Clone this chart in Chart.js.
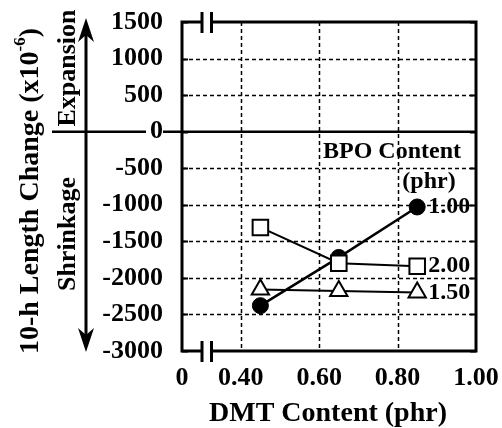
<!DOCTYPE html>
<html>
<head>
<meta charset="utf-8">
<script src="https://cdn.jsdelivr.net/npm/chart.js@4.4.0/dist/chart.umd.min.js"></script>
<style>
  html, body { margin: 0; padding: 0; background: #fff; }
</style>
</head>
<body>
<canvas id="lengthChart" width="502" height="428"></canvas>
<script>
// DMT content on the x axis, BPO content series
const dmtContent = [0.45, 0.65, 0.85];
const bpo100 = [-2380, -1720, -1030];
const bpo150 = [-2160, -2180, -2200];
const bpo200 = [-1310, -1800, -1840];

const xTickValues = [0.25, 0.40, 0.60, 0.80, 1.00];
const xTickLabels = ['0', '0.40', '0.60', '0.80', '1.00'];
const yTickValues = [1500, 1000, 500, 0, -500, -1000, -1500, -2000, -2500, -3000];

const FONT = '"Liberation Serif", "Times New Roman", serif';

function toPoints(vals) {
    return dmtContent.map((d, i) => ({ x: d, y: vals[i] }));
}

const decorations = {
    id: 'decorations',
    beforeDatasetsDraw(chart) {
        const { ctx, chartArea: a, scales: { x, y } } = chart;
        ctx.save();
        ctx.strokeStyle = '#000';

        // dashed grid
        ctx.lineWidth = 1.5;
        ctx.setLineDash([4, 3]);
        ctx.beginPath();
        yTickValues.forEach(v => {
            if (v === 0 || v === 1500 || v === -3000) return;
            const py = Math.round(y.getPixelForValue(v)) + 0.5;
            ctx.moveTo(a.left, py);
            ctx.lineTo(a.right, py);
        });
        xTickValues.forEach(v => {
            if (v <= 0.25 || v >= 1) return;
            const px = Math.round(x.getPixelForValue(v)) + 0.5;
            ctx.moveTo(px, a.top);
            ctx.lineTo(px, a.bottom);
        });
        ctx.stroke();
        ctx.setLineDash([]);

        // small inward ticks
        ctx.lineWidth = 2;
        ctx.beginPath();
        yTickValues.forEach(v => {
            const py = Math.round(y.getPixelForValue(v)) + 0.5;
            ctx.moveTo(a.left, py); ctx.lineTo(a.left + 6, py);
            ctx.moveTo(a.right, py); ctx.lineTo(a.right - 6, py);
        });
        ctx.stroke();

        // zero line, runs out into the margin
        const y0 = y.getPixelForValue(0);
        ctx.lineWidth = 2.5;
        ctx.beginPath();
        ctx.moveTo(52, y0); ctx.lineTo(146, y0);
        ctx.moveTo(163, y0); ctx.lineTo(a.right, y0);
        ctx.stroke();

        // frame
        ctx.lineWidth = 3;
        ctx.strokeRect(a.left, a.top, a.width, a.height);
        ctx.restore();
    },
    afterDraw(chart) {
        const { ctx, chartArea: a, scales: { x, y } } = chart;
        ctx.save();
        ctx.fillStyle = '#000';
        ctx.strokeStyle = '#000';

        // axis break marks
        [a.top, a.bottom].forEach(by => {
            ctx.fillStyle = '#fff';
            ctx.fillRect(a.left + 21, by - 3, 7, 6);
            ctx.fillStyle = '#000';
            ctx.lineWidth = 3;
            ctx.beginPath();
            ctx.moveTo(a.left + 20, by - 10); ctx.lineTo(a.left + 20, by + 11);
            ctx.moveTo(a.left + 29.5, by - 10); ctx.lineTo(a.left + 29.5, by + 11);
            ctx.stroke();
        });

        // expansion / shrinkage arrow
        const ax = 86;
        ctx.lineWidth = 3;
        ctx.beginPath();
        ctx.moveTo(ax, 30); ctx.lineTo(ax, 340);
        ctx.stroke();
        ctx.beginPath();
        ctx.moveTo(ax, 18); ctx.lineTo(ax + 8, 42); ctx.lineTo(ax, 35); ctx.lineTo(ax - 8, 42);
        ctx.closePath();
        ctx.fill();
        ctx.beginPath();
        ctx.moveTo(ax, 352); ctx.lineTo(ax + 8, 328); ctx.lineTo(ax, 335); ctx.lineTo(ax - 8, 328);
        ctx.closePath();
        ctx.fill();

        // rotated texts
        ctx.textAlign = 'center';
        ctx.textBaseline = 'middle';
        ctx.font = 'bold 26px ' + FONT;
        ctx.save();
        ctx.translate(68, 68);
        ctx.rotate(-Math.PI / 2);
        ctx.fillText('Expansion', 0, 0);
        ctx.restore();
        ctx.save();
        ctx.translate(68, 234);
        ctx.rotate(-Math.PI / 2);
        ctx.fillText('Shrinkage', 0, 0);
        ctx.restore();

        // y title with superscript
        ctx.save();
        ctx.translate(31, 191);
        ctx.rotate(-Math.PI / 2);
        ctx.textAlign = 'left';
        const mainFont = 'bold 28px ' + FONT;
        const supFont = 'bold 17px ' + FONT;
        const p1 = '10-h Length Change (x10', p2 = '-6', p3 = ')';
        ctx.font = mainFont;
        const w1 = ctx.measureText(p1).width, w3 = ctx.measureText(p3).width;
        ctx.font = supFont;
        const w2 = ctx.measureText(p2).width;
        let sx = -(w1 + w2 + w3) / 2;
        ctx.font = mainFont;
        ctx.fillText(p1, sx, 0);
        ctx.font = supFont;
        ctx.fillText(p2, sx + w1, -10);
        ctx.font = mainFont;
        ctx.fillText(p3, sx + w1 + w2, 0);
        ctx.restore();

        // x title
        ctx.font = 'bold 28px ' + FONT;
        ctx.fillText('DMT Content (phr)', 328, 414);

        // series labels
        ctx.font = 'bold 24px ' + FONT;
        ctx.fillText('BPO Content', 392, 152);
        ctx.fillText('(phr)', 429, 182);
        ctx.textAlign = 'left';
        const lx = x.getPixelForValue(dmtContent[dmtContent.length - 1]) + 11;
        [[bpo100, '1.00'], [bpo200, '2.00'], [bpo150, '1.50']].forEach(([vals, lbl]) => {
            ctx.fillText(lbl, lx, y.getPixelForValue(vals[vals.length - 1]));
        });
        ctx.restore();
    }
};

const ctx = document.getElementById('lengthChart').getContext('2d');
new Chart(ctx, {
    type: 'line',
    data: {
        datasets: [
            {
                label: '2.00',
                data: toPoints(bpo200),
                borderColor: '#000',
                borderWidth: 2,
                pointStyle: 'rect',
                pointRadius: 11,
                pointBorderWidth: 2,
                pointBackgroundColor: '#fff',
                pointBorderColor: '#000'
            },
            {
                label: '1.50',
                data: toPoints(bpo150),
                borderColor: '#000',
                borderWidth: 2,
                pointStyle: 'triangle',
                pointRadius: 10,
                pointBorderWidth: 2,
                pointBackgroundColor: '#fff',
                pointBorderColor: '#000'
            },
            {
                label: '1.00',
                data: toPoints(bpo100),
                borderColor: '#000',
                borderWidth: 2.5,
                pointStyle: 'circle',
                pointRadius: 8,
                pointBorderWidth: 1,
                pointBackgroundColor: '#000',
                pointBorderColor: '#000'
            }
        ]
    },
    options: {
        responsive: false,
        animation: false,
        devicePixelRatio: 1,
        layout: { padding: { top: 22, right: 26, left: 0, bottom: 0 } },
        plugins: { legend: { display: false }, tooltip: { enabled: false } },
        scales: {
            x: {
                type: 'linear',
                min: 0.25,
                max: 1.0,
                afterBuildTicks: scale => { scale.ticks = xTickValues.map(v => ({ value: v })); },
                afterFit: scale => { scale.height = 77; scale.paddingLeft = 0; scale.paddingRight = 0; },
                ticks: {
                    padding: 12,
                    maxRotation: 0,
                    autoSkip: false,
                    color: '#000',
                    font: { family: FONT, size: 26, weight: 'bold' },
                    callback: (v, i) => xTickLabels[i]
                },
                grid: { display: false, drawTicks: false },
                border: { display: false }
            },
            y: {
                type: 'linear',
                min: -3000,
                max: 1500,
                afterBuildTicks: scale => { scale.ticks = yTickValues.map(v => ({ value: v })); },
                afterFit: scale => { scale.width = 182; scale.paddingTop = 0; scale.paddingBottom = 0; },
                ticks: {
                    padding: 19,
                    autoSkip: false,
                    color: '#000',
                    font: { family: FONT, size: 26, weight: 'bold' },
                    callback: v => String(v)
                },
                grid: { display: false, drawTicks: false },
                border: { display: false }
            }
        }
    },
    plugins: [decorations]
});
</script>
</body>
</html>
